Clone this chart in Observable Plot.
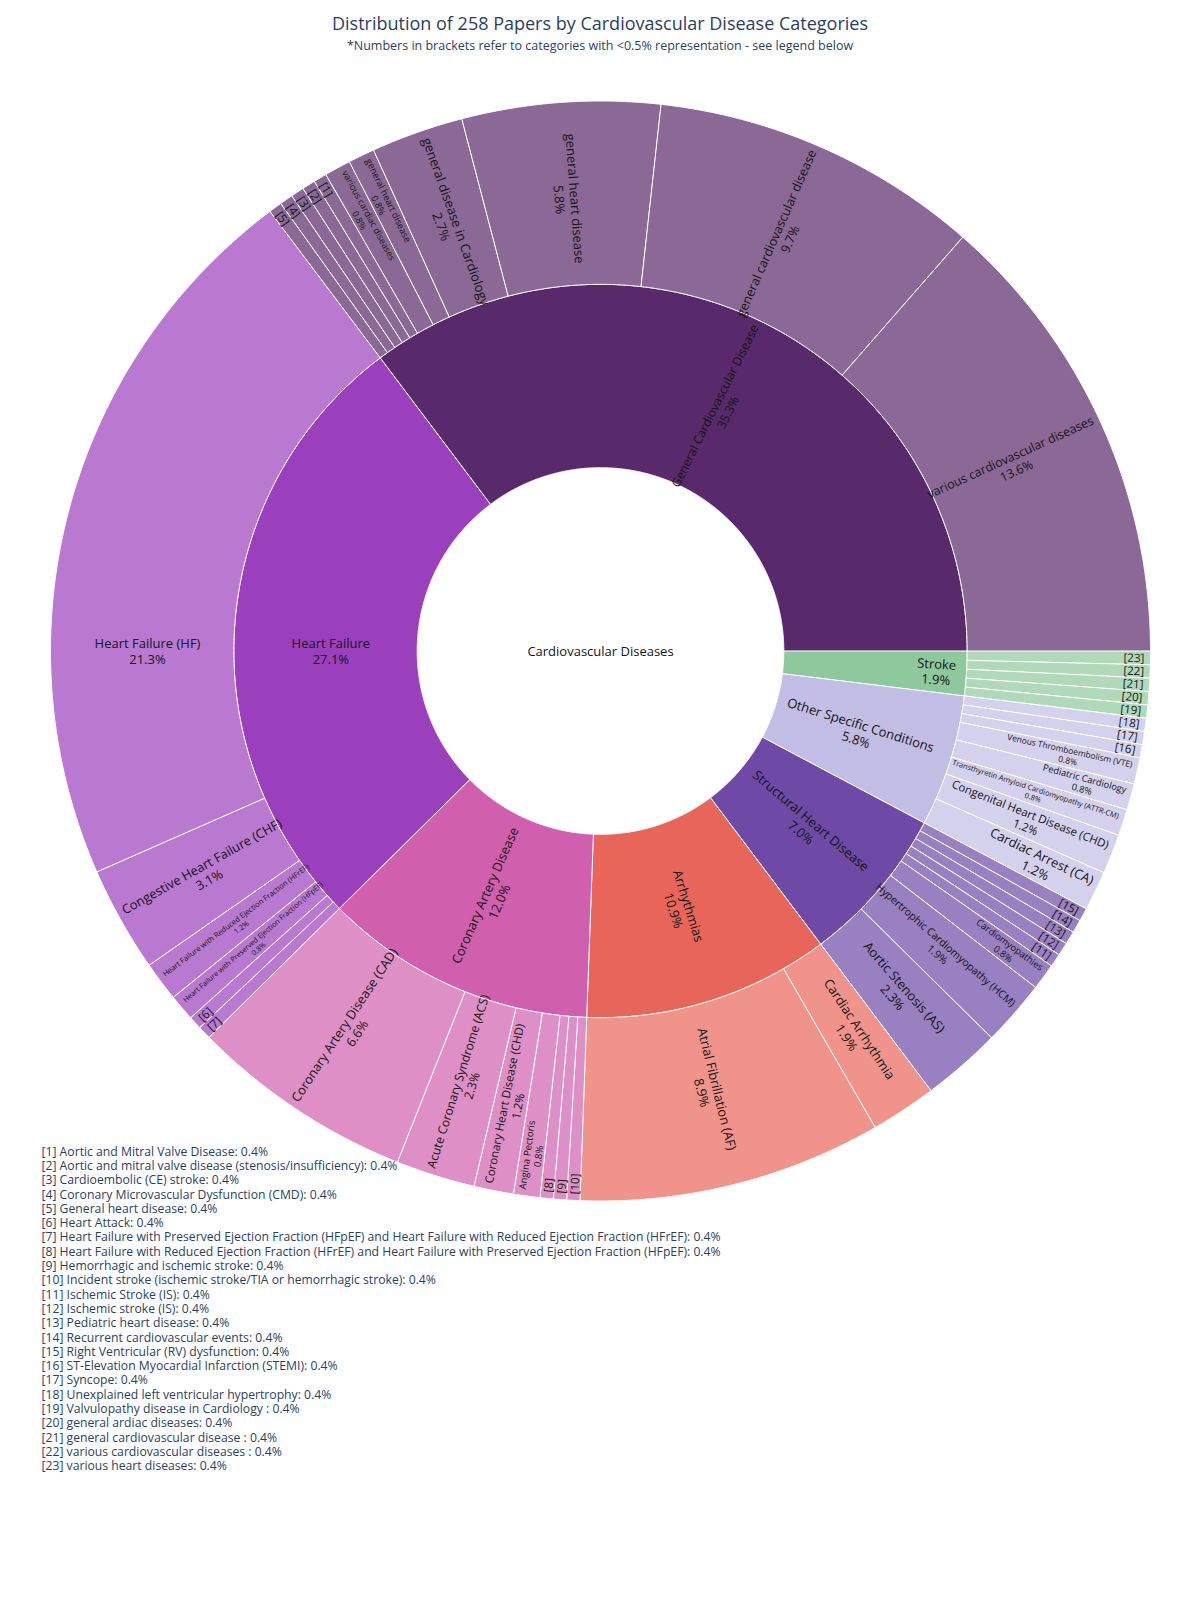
<!DOCTYPE html>
<html>
<head>
<meta charset="utf-8">
<script src="https://cdn.jsdelivr.net/npm/d3@7"></script>
<script src="https://cdn.jsdelivr.net/npm/@observablehq/plot@0.6"></script>
<style>
  body { margin: 0; background: #fff; font-family: "Open Sans", sans-serif; }
  #wrap { position: relative; width: 1200px; }
  #head { position: relative; height: 52px; }
  #title { position: absolute; left: 0; width: 1200px; top: 11px; height: 25px; line-height: 25px; text-align: center; font-size: 18px; color: #2a3f5f; }
  #subtitle { position: absolute; left: 0; width: 1200px; top: 36.5px; height: 17px; line-height: 17px; text-align: center; font-size: 12.5px; color: #2a3f5f; }
</style>
</head>
<body>
<div id="wrap">
  <div id="head">
    <div id="title">Distribution of 258 Papers by Cardiovascular Disease Categories</div>
    <div id="subtitle">*Numbers in brackets refer to categories with &lt;0.5% representation - see legend below</div>
  </div>
  <div id="chart"></div>
</div>
<script>
// ---------------- DATA ----------------
const TOTAL = 258;
const rootLabel = "Cardiovascular Diseases";

const groups = [
  "General Cardiovascular Disease",
  "Heart Failure",
  "Coronary Artery Disease",
  "Arrhythmias",
  "Structural Heart Disease",
  "Other Specific Conditions",
  "Stroke"
];
const groupCounts = [91, 70, 31, 28, 18, 15, 5];
const groupColors = ["#582A6B", "#9B40BD", "#D05FAE", "#E8655A", "#6E4AA6", "#C2BDE5", "#8EC99D"];

const leafGroup = [
  0,0,0,0,0,0,0,0,0,0,0,
  1,1,1,1,1,1,
  2,2,2,2,2,2,2,
  3,3,
  4,4,4,4,4,4,4,4,
  5,5,5,5,5,5,5,5,
  6,6,6,6,6
];
const leafNames = [
  "various cardiovascular diseases",
  "general cardiovascular disease",
  "general heart disease",
  "general disease in Cardiology",
  "general heart disease",
  "various cardiac diseases",
  "Aortic and Mitral Valve Disease",
  "Aortic and mitral valve disease (stenosis/insufficiency)",
  "Cardioembolic (CE) stroke",
  "Coronary Microvascular Dysfunction (CMD)",
  "General heart disease",

  "Heart Failure (HF)",
  "Congestive Heart Failure (CHF)",
  "Heart Failure with Reduced Ejection Fraction (HFrEF)",
  "Heart Failure with Preserved Ejection Fraction (HFpEF)",
  "Heart Attack",
  "Heart Failure with Preserved Ejection Fraction (HFpEF) and Heart Failure with Reduced Ejection Fraction (HFrEF)",

  "Coronary Artery Disease (CAD)",
  "Acute Coronary Syndrome (ACS)",
  "Coronary Heart Disease (CHD)",
  "Angina Pectoris",
  "Heart Failure with Reduced Ejection Fraction (HFrEF) and Heart Failure with Preserved Ejection Fraction (HFpEF)",
  "Hemorrhagic and ischemic stroke",
  "Incident stroke (ischemic stroke/TIA or hemorrhagic stroke)",

  "Atrial Fibrillation (AF)",
  "Cardiac Arrhythmia",

  "Aortic Stenosis (AS)",
  "Hypertrophic Cardiomyopathy (HCM)",
  "Cardiomyopathies",
  "Ischemic Stroke (IS)",
  "Ischemic stroke (IS)",
  "Pediatric heart disease",
  "Recurrent cardiovascular events",
  "Right Ventricular (RV) dysfunction",

  "Cardiac Arrest (CA)",
  "Congenital Heart Disease (CHD)",
  "Transthyretin Amyloid Cardiomyopathy (ATTR-CM)",
  "Pediatric Cardiology",
  "Venous Thromboembolism (VTE)",
  "ST-Elevation Myocardial Infarction (STEMI)",
  "Syncope",
  "Unexplained left ventricular hypertrophy",

  "Valvulopathy disease in Cardiology ",
  "general ardiac diseases",
  "general cardiovascular disease ",
  "various cardiovascular diseases ",
  "various heart diseases"
];
const leafCounts = [
  35, 25, 15, 7, 2, 2, 1, 1, 1, 1, 1,
  55, 8, 3, 2, 1, 1,
  17, 6, 3, 2, 1, 1, 1,
  23, 5,
  6, 5, 2, 1, 1, 1, 1, 1,
  3, 3, 2, 2, 2, 1, 1, 1,
  1, 1, 1, 1, 1
];
const smallThreshold = 0.5; // percent

// ---------------- LAYOUT ----------------
const W = 1200, H = 1548;
const CY = 598.5;             // centre, from top of svg
const R = 550;
const rRoot = R / 3, rMid = 2 * R / 3, rOut = R;
const PAD = 3, BASE = 13;
const FONT = "Open Sans";

const pct = c => (c / TOTAL * 100).toFixed(1) + "%";

// bracket numbering for tiny categories (sorted by name)
const smallNames = leafNames.filter((n, i) => leafCounts[i] / TOTAL * 100 < smallThreshold);
const sortedSmall = smallNames.slice().sort();
const smallIndex = new Map(sortedSmall.map((n, i) => [n, i + 1]));

// angles
const groupSpan = [];
{ let acc = 0; groupCounts.forEach(c => { const a0 = acc / TOTAL * 360; acc += c; groupSpan.push([a0, acc / TOTAL * 360]); }); }
const leafSpan = [];
{ let acc = 0; leafCounts.forEach(c => { const a0 = acc / TOTAL * 360; acc += c; leafSpan.push([a0, acc / TOTAL * 360]); }); }

function arcPoly(id, a0, a1, ri, ro, color) {
  const pts = [];
  const n = Math.max(2, Math.ceil((a1 - a0) / 0.2));
  for (let i = 0; i <= n; i++) {
    const a = (a0 + (a1 - a0) * i / n) * Math.PI / 180;
    pts.push({ id, color, x: ro * Math.cos(a), y: ro * Math.sin(a) });
  }
  for (let i = n; i >= 0; i--) {
    const a = (a0 + (a1 - a0) * i / n) * Math.PI / 180;
    pts.push({ id, color, x: ri * Math.cos(a), y: ri * Math.sin(a) });
  }
  return pts;
}

const innerPts = groups.flatMap((g, i) => arcPoly("g" + i, groupSpan[i][0], groupSpan[i][1], rRoot, rMid, groupColors[i]));
const outerPts = leafNames.flatMap((n, i) => arcPoly("l" + i, leafSpan[i][0], leafSpan[i][1], rMid, rOut, groupColors[leafGroup[i]]));

// text measurement
const ctx = document.createElement("canvas").getContext("2d");
ctx.font = `${BASE}px "${FONT}"`;
function bbox(text) {
  const lines = text.split("\n");
  const w = Math.max(...lines.map(l => ctx.measureText(l).width));
  const h = BASE * (1.3 * (lines.length - 1) + 1.1);
  return { w, h };
}

function radialFit(w, h, r0, r1, half) {
  const r = Math.max(0, r1 - 2 * PAD);
  const ring = 1 - r0 / r1;
  const a = w / h;
  const hf = Math.min(half, Math.PI / 2 - 1e-6);
  const q = a + 1 / (2 * Math.tan(hf));
  const s = r * Math.min(1 / (Math.sqrt(q * q + 0.5) + q), ring / (Math.sqrt(a * a + ring / 2) + a));
  const b = s / r;
  return { scale: 2 * s / h, rc: r * (Math.cos(b) - a * b) };
}

function placeLabel(text, a0, a1, r0, r1) {
  const { w, h } = bbox(text);
  const cands = [];
  if (a0 < 180 && a1 > 180) {
    const half = Math.min(180 - a0, a1 - 180) * Math.PI / 180;
    cands.push({ ...radialFit(w, h, r0, r1, half), pos: 180 });
  }
  cands.push({ ...radialFit(w, h, r0, r1, (a1 - a0) / 2 * Math.PI / 180), pos: (a0 + a1) / 2 });
  let best = cands[0];
  for (const c of cands) if (c.scale > best.scale) best = c;
  let rot = ((-best.pos % 360) + 360) % 360;
  if (rot > 90 && rot <= 270) rot -= 180; else if (rot > 270) rot -= 360;
  const t = best.pos * Math.PI / 180;
  return { text, x: best.rc * Math.cos(t), y: best.rc * Math.sin(t), rotate: rot, size: BASE * Math.min(1, best.scale) };
}

const labels = [];
labels.push({ text: rootLabel, x: 0, y: 0, rotate: 0, size: BASE });
groups.forEach((g, i) => labels.push(placeLabel(g + "\n" + pct(groupCounts[i]), groupSpan[i][0], groupSpan[i][1], rRoot, rMid)));
leafNames.forEach((n, i) => {
  const txt = smallIndex.has(n) ? `[${smallIndex.get(n)}]` : n + "\n" + pct(leafCounts[i]);
  labels.push(placeLabel(txt, leafSpan[i][0], leafSpan[i][1], rMid, rOut));
});

const legendText = sortedSmall.map(n => `[${smallIndex.get(n)}] ${n}: ${pct(leafCounts[leafNames.indexOf(n)])}`).join("\n");

const chart = Plot.plot({
  width: W,
  height: H,
  margin: 0,
  style: { background: "transparent", fontFamily: FONT },
  x: { domain: [-W / 2, W / 2], axis: null },
  y: { domain: [-(H - CY), CY], axis: null },
  color: { type: "identity" },
  marks: [
    Plot.line(innerPts, { x: "x", y: "y", z: "id", fill: "color", stroke: "white", strokeWidth: 1, curve: "linear-closed" }),
    Plot.line(outerPts, { x: "x", y: "y", z: "id", fill: "color", fillOpacity: 0.7, stroke: "white", strokeWidth: 1, curve: "linear-closed" }),
    Plot.text(labels, {
      x: "x", y: "y", text: "text",
      rotate: d => d.rotate,
      fontSize: d => d.size,
      lineHeight: 1.2,
      fill: "#141414",
      fontFamily: FONT
    }),
    Plot.text([legendText], {
      text: d => d,
      frameAnchor: "top-left",
      dx: 41, dy: 1093,
      textAnchor: "start",
      lineAnchor: "top",
      fontSize: 12.2,
      lineHeight: 14.3 / 12.2,
      fill: "#2a3f5f",
      fontFamily: FONT
    })
  ]
});
document.getElementById("chart").appendChild(chart);
</script>
</body>
</html>
